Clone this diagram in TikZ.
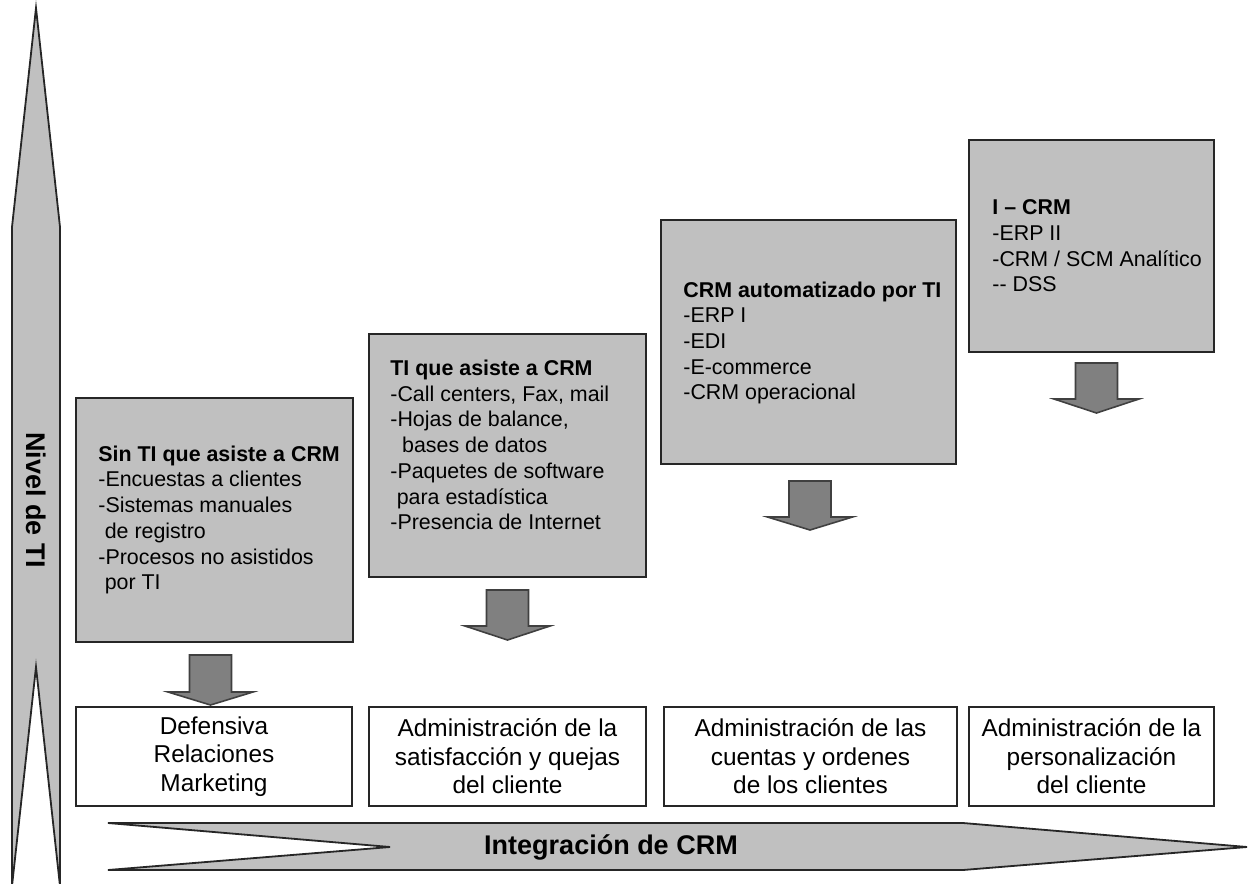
\documentclass[tikz,border=0pt]{standalone}
\usepackage{fontspec}
\setmainfont{Liberation Sans}
\definecolor{boxgray}{HTML}{C0C0C0}
\definecolor{arrowgray}{HTML}{808080}
\definecolor{edgegray}{HTML}{262626}
\begin{document}
\begin{tikzpicture}[x=0.5pt,y=-0.5pt,
  outline/.style={draw=edgegray, line width=0.9pt, line join=miter},
  bigarrow/.style={outline, fill=boxgray},
  graybox/.style={outline, fill=boxgray, inner sep=0pt, outer sep=0pt, minimum height=122pt},
  stagebox/.style={outline, fill=white, inner sep=0pt, outer sep=0pt, minimum height=49.5pt,
    align=center, font=\fontsize{12.2}{14.25}\selectfont},
  listtext/.style={inner sep=0pt, anchor=west, align=left,
    font=\fontsize{10.7}{12.85}\selectfont},
  downarrow/.style={draw=black!75, line width=0.8pt, fill=arrowgray, line join=miter},
  axislabel/.style={font=\fontsize{13.5}{16}\selectfont\bfseries, inner sep=0pt}
]
\useasboundingbox (0,0) rectangle (1254,884);

% vertical axis arrow: level of IT
\draw[bigarrow] (36,8) -- (60,227) -- (60,886) -- (36,667) -- (12,886) -- (12,227) -- cycle;
\node[axislabel, rotate=-90] (nivel) at (36,500) {Nivel de TI};

% horizontal axis arrow: CRM integration
\draw[bigarrow] (108,823) -- (963,823) -- (1247,847) -- (963,870) -- (108,870) -- (390,847) -- cycle;
\node[axislabel] (integ) at (611,847) {Integración de CRM};

% stage boxes (gray)
\node[graybox, minimum width=138.5pt] (b1) at (214.5,520) {};
\node[graybox, minimum width=138.5pt, minimum height=121.5pt] (b2) at (507.5,455.5) {};
\node[graybox, minimum width=147.5pt] (b3) at (808.5,342) {};
\node[graybox, minimum width=122.5pt, minimum height=106pt] (b4) at (1091.5,246) {};

\node[listtext] (t1) at (98,520) {\textbf{Sin TI que asiste a CRM}\\
  -Encuestas a clientes\\
  -Sistemas manuales\\
  \hspace*{0.3em}de registro\\
  -Procesos no asistidos\\
  \hspace*{0.3em}por TI};
\node[listtext] (t2) at (390,445) {\textbf{TI que asiste a CRM}\\
  -Call centers, Fax, mail\\
  -Hojas de balance,\\
  \hspace*{0.55em}bases de datos\\
  -Paquetes de software\\
  \hspace*{0.3em}para estadística\\
  -Presencia de Internet};
\node[listtext] (t3) at (683,343) {\textbf{CRM automatizado por TI}\\
  -ERP I\\
  -EDI\\
  -E-commerce\\
  -CRM operacional};
\node[listtext] (t4) at (992,246) {\textbf{I – CRM}\\
  -ERP II\\
  -CRM / SCM Analítico\\
  -{}- DSS};

% bottom boxes: relationship management focus
\node[stagebox, minimum width=138pt] (sA) at (214,756.5) {Defensiva\\Relaciones\\Marketing};
\node[stagebox, minimum width=138.5pt] (sB) at (507.5,756.5) {Administración de la\\satisfacción y quejas\\del cliente};
\node[stagebox, minimum width=146.5pt] (sC) at (810.5,756.5) {Administración de las\\cuentas y ordenes\\de los clientes};
\node[stagebox, minimum width=122.5pt] (sD) at (1091.5,756.5) {Administración de la\\personalización\\del cliente};

% block arrows below each gray box
\newcommand\blockdown[4]{%
  \draw[downarrow] (#1-21,#2) -- (#1+21,#2) -- (#1+21,#3) -- (#1+42.5,#3)
    -- (#1,#4) -- (#1-42.5,#3) -- (#1-21,#3) -- cycle;}
\blockdown{210.5}{655}{692}{705}
\blockdown{507.5}{590}{626}{640}
\blockdown{810}{481}{517}{530}
\blockdown{1096.5}{363}{399}{413}
\end{tikzpicture}
\end{document}
